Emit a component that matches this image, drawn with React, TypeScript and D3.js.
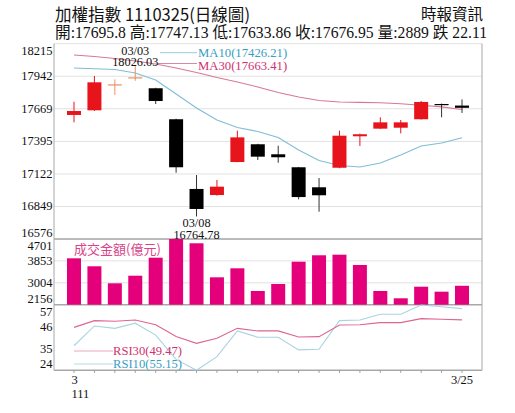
import * as d3 from "d3";
import React, { useEffect, useRef } from "react";

const dates = [
  "02/25", "03/01", "03/02", "03/03", "03/04", "03/07", "03/08", "03/09", "03/10", "03/11",
  "03/14", "03/15", "03/16", "03/17", "03/18", "03/21", "03/22", "03/23", "03/24", "03/25",
];
const opens = [17617, 17656, 17874, 17933, 17841, 17581, 16996, 16945, 17222, 17371, 17287, 17178, 17010, 17174, 17438, 17502, 17510, 17581, 17709, 17695.8];
const highs = [17728, 17944, 17916, 18026.03, 17845, 17585, 17113, 17071, 17485, 17375, 17359, 17180, 17088, 17485, 17460, 17597, 17575, 17735, 17712, 17747.13];
const lows = [17555, 17650, 17785, 17904, 17709, 17132, 16764.78, 16940, 17220, 17239, 17216, 16909, 16805, 17170, 17357, 17500, 17463, 17578, 17597, 17633.86];
const closes = [17650, 17891, 17874, 17933, 17734, 17178, 16828, 17015, 17429, 17267, 17262, 16928, 16943, 17443, 17455, 17555, 17555, 17726, 17699.06, 17676.95];
const ma10 = [18011, 18005, 17998, 17969, 17910, 17793, 17675, 17575, 17512, 17478, 17428, 17323, 17235, 17193, 17180, 17214, 17281, 17356, 17382, 17426.21];
const ma30 = [18120, 18108, 18091, 18070, 18045, 18011, 17973, 17931, 17894, 17852, 17805, 17768, 17738, 17726, 17723, 17720, 17711, 17699, 17685, 17663.41];
const volumes = [3953, 3644, 2985, 3279, 3977, 4701, 4535, 3217, 3566, 2687, 2958, 3822, 4070, 4093, 3694, 2687, 2404, 2853, 2660, 2889];
const rsi10 = [36.4, 46.4, 45.2, 47.8, 41.8, 29.5, 24.0, 30.9, 43.9, 40.7, 40.7, 34.3, 34.6, 49.1, 49.4, 52.3, 52.3, 57.0, 56.1, 55.15];
const rsi30 = [45.7, 49.1, 48.8, 49.4, 47.0, 41.1, 37.6, 40.2, 45.2, 43.9, 43.9, 40.8, 41.0, 46.9, 47.0, 48.1, 48.1, 50.1, 49.8, 49.47];
const priceTicks = [18215, 17942, 17669, 17395, 17122, 16849, 16576];
const volTicks = [4701, 3853, 3004, 2156];
const rsiTicks = [57, 46, 35, 24];

const FONT = "'Liberation Serif', 'Times New Roman', 'Noto Sans CJK TC', serif";
const CJK = "'Noto Sans CJK TC', 'Liberation Serif', serif";

const App: React.FC = () => {
  const ref = useRef<SVGSVGElement>(null);

  useEffect(() => {
    if (!ref.current) return;
    const svg = d3.select(ref.current);
    svg.selectAll("*").remove();

    const left = 54;
    const right = 482;
    const x = d3.scalePoint<string>().domain(dates).range([74, 462]);
    const yP = d3.scaleLinear().domain([16576, 18215]).range([239, 43.7]);
    const yV = d3.scaleLinear().domain([2156, 4701]).range([304.7, 239]);
    const yR = d3.scaleLinear().domain([24, 57]).range([370.3, 305]);
    const idx = d3.range(dates.length);

    // title
    svg.append("text").attr("x", 55).attr("y", 21)
      .attr("textLength", 195).attr("lengthAdjust", "spacingAndGlyphs")
      .style("font-family", CJK).style("font-size", "17px").style("fill", "#111")
      .text("加權指數 1110325(日線圖)");
    svg.append("text").attr("x", 483).attr("y", 20).attr("text-anchor", "end")
      .style("font-family", CJK).style("font-size", "15.5px").style("fill", "#111")
      .text("時報資訊");
    svg.append("text").attr("x", 55).attr("y", 37.5)
      .attr("textLength", 432).attr("lengthAdjust", "spacingAndGlyphs")
      .style("font-family", FONT).style("font-size", "16px").style("fill", "#111")
      .text(`開:${opens[19]} 高:${highs[19]} 低:${lows[19]} 收:${closes[19]} 量:${volumes[19]} 跌 ${(closes[18] - closes[19]).toFixed(2)}`);

    // gridlines
    const grid = svg.append("g").attr("stroke", "#e2e2e2").attr("stroke-width", 1);
    priceTicks.forEach((t) => grid.append("line").attr("x1", left).attr("x2", right).attr("y1", yP(t)).attr("y2", yP(t)));
    volTicks.slice(1, -1).forEach((t) => grid.append("line").attr("x1", left).attr("x2", right).attr("y1", yV(t)).attr("y2", yV(t)));

    // frame
    const frame = svg.append("g").attr("stroke", "#a8a8a8").attr("fill", "none");
    frame.append("line").attr("x1", left).attr("x2", left).attr("y1", yP(18215)).attr("y2", yR(24));
    frame.append("line").attr("x1", right).attr("x2", right).attr("y1", yP(18215)).attr("y2", yR(24));
    [yP(16576), yV(2156), yR(24)].forEach((yy) =>
      frame.append("line").attr("x1", left).attr("x2", right).attr("y1", yy).attr("y2", yy).attr("stroke-width", 1.6));

    // axis labels
    const labelGroup = svg.append("g").style("font-family", FONT).style("font-size", "12.5px").style("fill", "#111")
      .attr("text-anchor", "end").attr("dominant-baseline", "central");
    const addLabels = (ticks: number[], sc: d3.ScaleLinear<number, number>) => {
      ticks.forEach((t, i) => {
        const off = i === 0 ? 7 : i === ticks.length - 1 ? -6 : 0;
        labelGroup.append("text").attr("x", 52.5).attr("y", sc(t) + off).text(t);
      });
    };
    addLabels(priceTicks, yP);
    addLabels(volTicks, yV);
    addLabels(rsiTicks, yR);

    // MA lines
    const line = (vals: number[], sc: d3.ScaleLinear<number, number>) =>
      d3.line<number>().x((i) => x(dates[i]) as number).y((i) => sc(vals[i]))(idx) as string;
    svg.append("path").attr("d", line(ma30, yP)).attr("fill", "none").attr("stroke", "#d77993").attr("stroke-width", 1.1);
    svg.append("path").attr("d", line(ma10, yP)).attr("fill", "none").attr("stroke", "#7fbdd4").attr("stroke-width", 1.1);

    // MA legend
    svg.append("line").attr("x1", 160).attr("x2", 197).attr("y1", 52.7).attr("y2", 52.7).attr("stroke", "#9ccbdc");
    svg.append("line").attr("x1", 158).attr("x2", 197).attr("y1", 63.5).attr("y2", 63.5).attr("stroke", "#d98aa2");
    svg.append("text").attr("x", 198).attr("y", 53).attr("dominant-baseline", "central")
      .style("font-family", FONT).style("font-size", "12.7px").style("fill", "#3a9dc4")
      .text(`MA10(${ma10[19].toFixed(2)})`);
    svg.append("text").attr("x", 198).attr("y", 66).attr("dominant-baseline", "central")
      .style("font-family", FONT).style("font-size", "12.7px").style("fill", "#d0306e")
      .text(`MA30(${ma30[19].toFixed(2)})`);

    // candles
    const color = (i: number) =>
      closes[i] > opens[i] ? "#e8141c" : closes[i] < opens[i] ? "#000" : "#e8935f";
    const bw = 14;
    const candles = svg.append("g").selectAll("g").data(idx).enter().append("g");
    candles.append("line")
      .attr("x1", (i) => x(dates[i]) as number).attr("x2", (i) => x(dates[i]) as number)
      .attr("y1", (i) => yP(highs[i])).attr("y2", (i) => yP(lows[i]))
      .attr("stroke", (i) => (closes[i] > opens[i] ? "#e8141c" : closes[i] < opens[i] ? "#333" : "#e8935f"))
      .attr("stroke-width", 1);
    candles.append("rect")
      .attr("x", (i) => (x(dates[i]) as number) - bw / 2)
      .attr("width", bw)
      .attr("y", (i) => yP(Math.max(opens[i], closes[i])))
      .attr("height", (i) => Math.max(1.2, yP(Math.min(opens[i], closes[i])) - yP(Math.max(opens[i], closes[i]))))
      .attr("fill", color);

    // annotations for high / low
    const hiI = d3.maxIndex(highs);
    const loI = d3.minIndex(lows);
    const ann = svg.append("g").style("font-family", FONT).style("font-size", "12.3px").style("fill", "#111")
      .attr("text-anchor", "middle").attr("dominant-baseline", "central");
    ann.append("text").attr("x", x(dates[hiI]) as number).attr("y", 50.8).text(dates[hiI]);
    ann.append("text").attr("x", x(dates[hiI]) as number).attr("y", 62.3).text(highs[hiI].toFixed(2));
    ann.append("text").attr("x", x(dates[loI]) as number).attr("y", 222.5).text(dates[loI]);
    ann.append("text").attr("x", x(dates[loI]) as number).attr("y", 234.5).text(lows[loI].toFixed(2));

    // volume bars
    svg.append("g").selectAll("rect").data(idx).enter().append("rect")
      .attr("x", (i) => (x(dates[i]) as number) - bw / 2)
      .attr("width", bw)
      .attr("y", (i) => yV(volumes[i]))
      .attr("height", (i) => yV(2156) - yV(volumes[i]))
      .attr("fill", "#e4007b");
    svg.append("text").attr("x", 74).attr("y", 248.3).attr("dominant-baseline", "central")
      .style("font-family", CJK).style("font-size", "13px").style("fill", "#d8438a")
      .text("成交金額(億元)");

    // RSI
    svg.append("path").attr("d", line(rsi10, yR)).attr("fill", "none").attr("stroke", "#a9d3e0").attr("stroke-width", 1.1);
    svg.append("path").attr("d", line(rsi30, yR)).attr("fill", "none").attr("stroke", "#de6590").attr("stroke-width", 1.1);
    svg.append("line").attr("x1", 74).attr("x2", 113).attr("y1", 351).attr("y2", 351).attr("stroke", "#eaa6bd");
    svg.append("line").attr("x1", 74).attr("x2", 113).attr("y1", 364).attr("y2", 364).attr("stroke", "#b8dbe6");
    svg.append("text").attr("x", 113).attr("y", 351).attr("dominant-baseline", "central")
      .style("font-family", FONT).style("font-size", "12.6px").style("fill", "#d0306e")
      .text(`RSI30(${rsi30[19].toFixed(2)})`);
    svg.append("text").attr("x", 113).attr("y", 364.3).attr("dominant-baseline", "central")
      .style("font-family", FONT).style("font-size", "12.6px").style("fill", "#3a9dc4")
      .text(`RSI10(${rsi10[19].toFixed(2)})`);

    // x axis ticks and labels
    svg.append("g").selectAll("line").data(idx).enter().append("line")
      .attr("x1", (i) => x(dates[i]) as number).attr("x2", (i) => x(dates[i]) as number)
      .attr("y1", yR(24)).attr("y2", yR(24) + 2.5).attr("stroke", "#999");
    const xl = svg.append("g").style("font-family", FONT).style("font-size", "12.5px").style("fill", "#111");
    xl.append("text").attr("x", 71.5).attr("y", 384).text("3");
    xl.append("text").attr("x", 71.5).attr("y", 398).text("111");
    xl.append("text").attr("x", x(dates[19]) as number).attr("y", 384).attr("text-anchor", "middle").text("3/25");
  }, []);

  return (
    <svg ref={ref} width={515} height={413}
      style={{ position: "absolute", left: 0, top: 0, background: "#fff", display: "block" }} />
  );
};

export default App;
